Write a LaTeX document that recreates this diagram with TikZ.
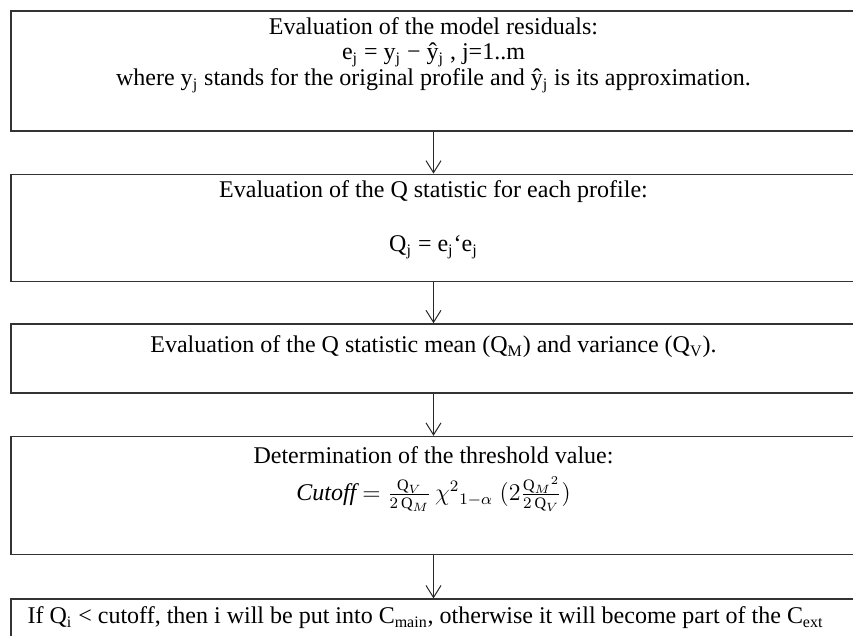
\documentclass[tikz,border=0pt]{standalone}
\usepackage{amsmath}
\usepackage{fontspec}
\setmainfont{Liberation Serif}
\usetikzlibrary{arrows.meta,positioning}

\begin{document}
\begin{tikzpicture}[
  x=0.5pt, y=-0.5pt,
  box/.style={
    draw=black!80, line width=0.8pt,
    minimum width=422.5pt, inner sep=0pt, anchor=north
  },
  txt/.style={
    inner sep=0pt, align=center,
    font=\fontsize{12}{12.8}\selectfont
  },
  arr/.style={-{Straight Barb[length=6pt,width=7.5pt]},line width=0.5pt,black!85},
]
\useasboundingbox (0,0) rectangle (853,636);
\clip (0,0) rectangle (853,636);

\node[box,minimum height=60pt] (resid) at (433.5,10) {};
\node[box,minimum height=53.5pt,below=21pt of resid] (qstat) {};
\node[box,minimum height=34.5pt,below=20.5pt of qstat] (qmv) {};
\node[box,minimum height=59pt,below=21pt of qmv] (thresh) {};
\node[box,minimum height=30pt,below=21.5pt of thresh] (assign) {};

\node[txt,below=3.5pt of resid.north] (residT)
  {Evaluation of the model residuals:\\
   e\textsubscript{j} = y\textsubscript{j} − ŷ\textsubscript{j} , j=1..m\\
   where y\textsubscript{j} stands for the original profile and ŷ\textsubscript{j} is its approximation.};
\node[txt,below=3.5pt of qstat.north] (qstatT)
  {Evaluation of the Q statistic for each profile:\\[14pt]
   Q\textsubscript{j} = e\textsubscript{j}‘e\textsubscript{j}};
\node[txt,below=6pt of qmv.north] (qmvT)
  {Evaluation of the Q statistic mean (Q\textsubscript{M}) and variance (Q\textsubscript{V}).};
\node[txt,below=5pt of thresh.north] (threshT)
  {Determination of the threshold value:\\[6pt]
   {\itshape Cutoff} $=\tfrac{\mathrm{Q}_V}{2\,\mathrm{Q}_M}\,\chi^{2}{}_{1-\alpha}\;(2\tfrac{\mathrm{Q}_M{}^{2}}{2\,\mathrm{Q}_V})$};
\node[txt,align=left,below right=4pt and 8.5pt of assign.north west] (assignT)
  {If Q\textsubscript{i} < cutoff, then i will be put into C\textsubscript{main}, otherwise it will become part of the C\textsubscript{ext}};

\draw[arr] (resid)  -- (qstat);
\draw[arr] (qstat)  -- (qmv);
\draw[arr] (qmv)    -- (thresh);
\draw[arr] (thresh) -- (assign);
\end{tikzpicture}
\end{document}
